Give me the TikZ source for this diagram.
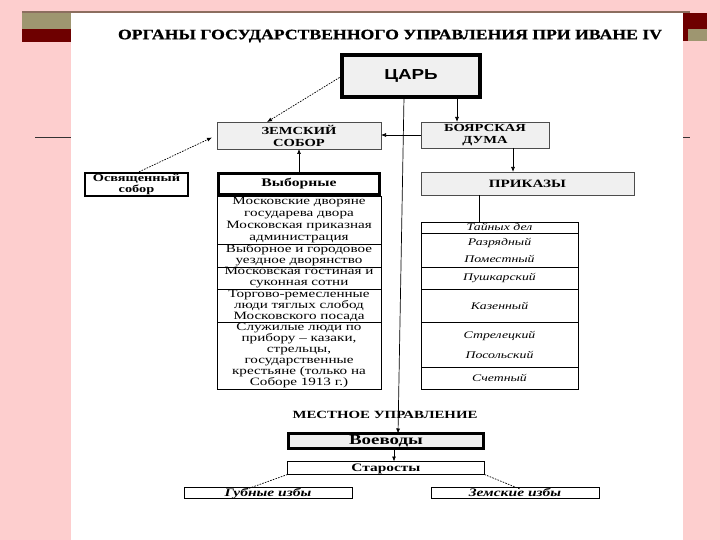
\documentclass[tikz,border=0pt]{standalone}
\usepackage{fontspec}
\setmainfont{Liberation Serif}[FakeStretch=1.35]
\newfontfamily\sansf{Liberation Sans}[FakeStretch=1.3]
\newfontfamily\titlef{Liberation Serif}[BoldFeatures={FakeBold=0.8}]
\usetikzlibrary{arrows.meta,calc}
\definecolor{bgpink}{RGB}{253,206,206}
\definecolor{darkred}{RGB}{110,0,0}
\definecolor{khaki}{RGB}{158,150,112}
\definecolor{topline}{RGB}{140,110,95}
\definecolor{boxgray}{RGB}{240,240,240}
\begin{document}
\begin{tikzpicture}[x=1pt,y=-1pt,
  every node/.style={inner sep=0.5pt, outer sep=0pt, align=center},
  fs/.style={font={\fontsize{#1}{#1}\selectfont}},
  fsb/.style 2 args={font={\fontsize{#1}{#2}\selectfont}},
  graybox/.style={draw=black!70, line width=0.9pt, fill=boxgray},
  heavybox/.style={draw=black, line width=3.5pt, fill=boxgray},
  rowbox/.style={draw=black, line width=0.6pt, fill=white},
  arr/.style={-{Latex[length=5pt,width=4pt]}, line width=0.7pt},
  dasharr/.style={-{Latex[length=5pt,width=4pt]}, line width=0.7pt, dash pattern=on 1.6pt off 1.2pt},
  dashln/.style={line width=0.7pt, dash pattern=on 1.6pt off 1.2pt},
  plain/.style={line width=0.7pt}
]
\useasboundingbox (0,0) rectangle (720,540);
% background
\fill[bgpink] (0,0) rectangle (720,540);
\draw[black!80, line width=1pt] (35,138) -- (690,138);
\fill[white] (71,12) rectangle (683,540);
\draw[topline, line width=1.5pt] (22,12) -- (690,12);
\fill[khaki] (22,13) rectangle (71,29);
\fill[darkred] (22,29) rectangle (71,42);
\fill[darkred] (683,13) rectangle (707,29);
\fill[darkred] (683,29) rectangle (688,41);
\fill[khaki] (688,29) rectangle (707,41);

% title
\node (title) at (390,36) {\resizebox{544pt}{9.5pt}{\titlef\bfseries ОРГАНЫ ГОСУДАРСТВЕННОГО УПРАВЛЕНИЯ ПРИ ИВАНЕ IV}};

% top level
\node[heavybox, minimum width=138, minimum height=42, fs=14.5] (tsar) at (411,76) {\sansf\bfseries ЦАРЬ};
\node[graybox, minimum width=164, minimum height=27, fsb={10.8}{12}] (zs) at (299,135.5) {\bfseries ЗЕМСКИЙ\\\bfseries СОБОР};
\node[graybox, minimum width=128, minimum height=26, fsb={10.8}{12}] (bd) at (485,135) {\bfseries БОЯРСКАЯ\\\bfseries ДУМА};
\node[draw=black, line width=2.2pt, fill=white, minimum width=103, minimum height=23, fsb={10.6}{11}] (osv) at (136.5,184.5) {\bfseries Освященный\\\bfseries собор};
\node[heavybox, fill=white, minimum width=161, minimum height=21, fs=11.6] (vyb) at (299,184) {\bfseries Выборные};
\node[graybox, minimum width=213, minimum height=23, fs=11.2] (prik) at (527.5,183.5) {\bfseries ПРИКАЗЫ};

% left list
\node[rowbox, minimum width=164, minimum height=48, fsb={11.2}{11.8}] (l1) at (299,220) {Московские дворяне\\государева двора\\Московская приказная\\администрация};
\node[rowbox, minimum width=164, minimum height=23, fsb={11.2}{11}] (l2) at (299,255.5) {Выборное и городовое\\уездное дворянство};
\node[rowbox, minimum width=164, minimum height=22, fsb={11.2}{11}] (l3) at (299,278) {Московская гостиная и\\суконная сотни};
\node[rowbox, minimum width=164, minimum height=33, fsb={11.2}{11}] (l4) at (299,305.5) {Торгово-ремесленные\\люди тяглых слобод\\Московского посада};
\node[rowbox, minimum width=164, minimum height=67, fsb={11.2}{11}] (l5) at (299,355.5) {Служилые люди по\\прибору – казаки,\\стрельцы,\\государственные\\крестьяне (только на\\Соборе 1913 г.)};

% right list
\node[rowbox, minimum width=157, minimum height=11, fs=10.2, text height=7, text depth=1.5] (q1) at (499.5,227.5) {\itshape Тайных дел};
\node[rowbox, minimum width=157, minimum height=34, fsb={10.2}{17}] (q2) at (499.5,250) {\itshape Разрядный\\\itshape Поместный};
\node[rowbox, minimum width=157, minimum height=22, fs=10.2] (q3) at (499.5,278) {\itshape Пушкарский};
\node[rowbox, minimum width=157, minimum height=33, fs=10.2] (q4) at (499.5,305.5) {\itshape Казенный};
\node[rowbox, minimum width=157, minimum height=45, fsb={10.2}{20}] (q5) at (499.5,344.5) {\itshape Стрелецкий\\\itshape Посольский};
\node[rowbox, minimum width=157, minimum height=22, fs=10.2] (q6) at (499.5,378) {\itshape Счетный};

% local government
\node[fs=11] (mest) at (385,415) {\bfseries МЕСТНОЕ УПРАВЛЕНИЕ};
\node[heavybox, line width=3pt, minimum width=195, minimum height=15, fs=14, text height=9, text depth=2.5] (voev) at (386,441) {\bfseries Воеводы};
\node[draw=black, line width=1.2pt, fill=white, minimum width=197, minimum height=13, fs=11.4, text height=8, text depth=2] (star) at (386,468) {\bfseries Старосты};
\node[draw=black, line width=0.6pt, fill=white, minimum width=168, minimum height=11, fs=11.5, text height=8, text depth=1] (gub) at (268,492.5) {\bfseries\itshape Губные избы};
\node[draw=black, line width=0.6pt, fill=white, minimum width=168, minimum height=11, fs=11.5, text height=8, text depth=1] (zem) at (515,492.5) {\bfseries\itshape Земские избы};

% connectors
\draw[dasharr] (tsar.west) -- ([xshift=-32]zs.north);
\draw[arr] ([xshift=46]tsar.south) -- ([xshift=46]tsar.south |- bd.north);
\draw[arr] ([xshift=-7]tsar.south) -- ([xshift=12]voev.north);
\draw[arr] (bd.west) -- (zs.east |- bd.west);
\draw[dasharr] (osv.north) -- ([xshift=-5,yshift=-2]zs.west);
\draw[arr] (vyb.north) -- (zs.south);
\draw[arr] ([xshift=28]bd.south) -- ([xshift=28]bd.south |- prik.north);
\draw[plain] ([xshift=-20]q1.north) -- ([xshift=-20]q1.north |- prik.south);
\draw[arr] ([xshift=8]voev.south) -- ([xshift=8]star.north);
\draw[dashln] (star.south west) -- ([xshift=-21,yshift=-2]gub.north);
\draw[dashln] (star.south east) -- ([xshift=5,yshift=-2]zem.north);
\end{tikzpicture}
\end{document}
